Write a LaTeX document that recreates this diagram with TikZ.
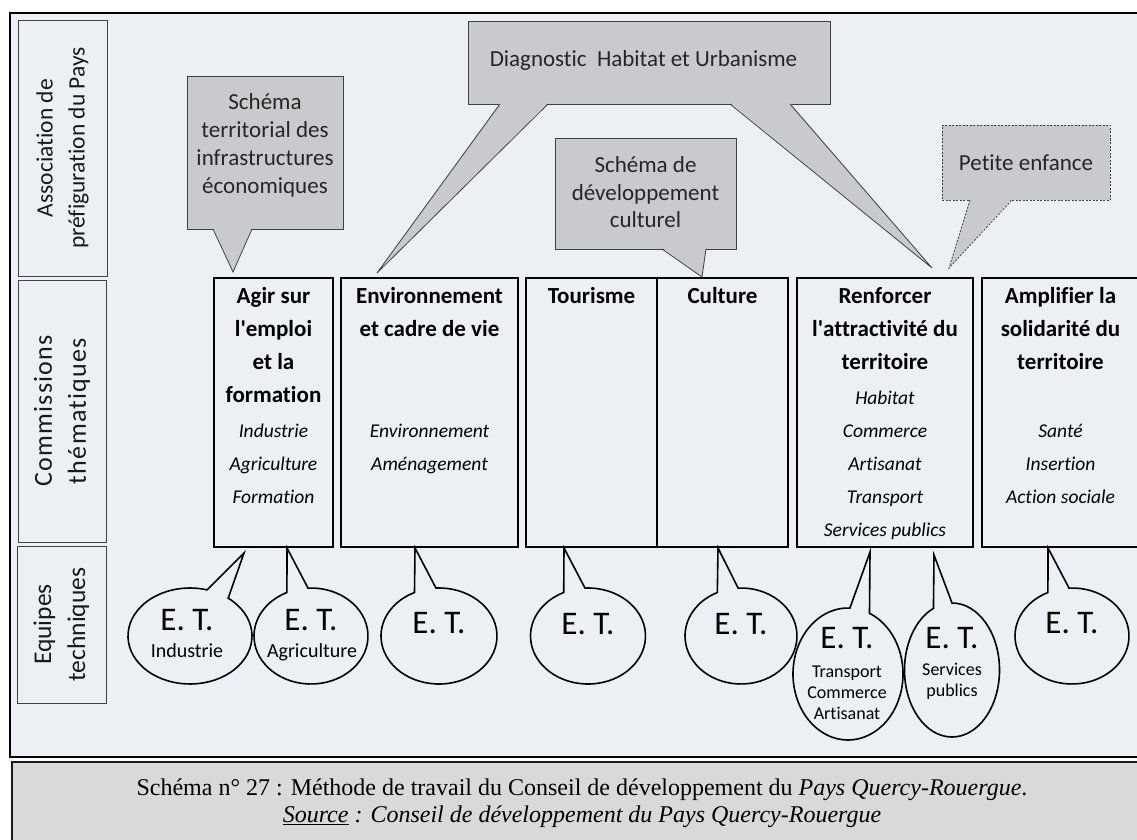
\documentclass[tikz,border=0pt]{standalone}
\usepackage{fontspec}
\setmainfont{Carlito}[Ligatures=NoCommon]
\newfontfamily\legendefont{Liberation Serif}
\usetikzlibrary{fit}
\definecolor{fond}{HTML}{ECF0F4}
\definecolor{gris}{HTML}{C8CACD}
\definecolor{grisfonce}{HTML}{404040}
\definecolor{grislegende}{HTML}{D9D9D9}
\newcommand{\dom}[1]{{\normalfont\itshape\fontsize{19.5}{33}\selectfont #1}}
\newcommand{\apos}{\textquotesingle}

\begin{document}
\begin{tikzpicture}[x=1pt,y=-1pt,
  cadre/.style={draw=black,line width=2.4pt,fill=fond},
  niveau/.style={draw=grisfonce,line width=0.9pt,fill=fond,inner sep=0pt},
  niveautxt/.style={rotate=90,align=center,inner sep=0pt,text=black!90,
              font=\fontsize{23.5}{32}\selectfont},
  commission/.style={draw=black,line width=1.8pt,inner sep=0pt},
  titre/.style={anchor=north,align=center,inner sep=0pt,
              font=\fontsize{23}{33}\selectfont\bfseries},
  appel/.style={draw=grisfonce,line width=0.8pt,fill=gris,inner sep=0pt},
  appeltxt/.style={anchor=north,align=center,inner sep=0pt,text=black!85,
              font=\fontsize{23}{28}\selectfont},
  pointe/.style={draw=grisfonce,line width=0.8pt},
  bulle/.style={draw=black,line width=1.6pt,fill=fond},
  et/.style={anchor=base,inner sep=0pt,font=\fontsize{33}{33}\selectfont},
  sous/.style={anchor=base,align=center,inner sep=0pt,font=\fontsize{20}{21}\selectfont},
  legende/.style={draw=black!90,line width=2pt,fill=grislegende,inner sep=0pt},
  legtxt/.style={anchor=north,align=center,inner sep=0pt,
              font=\legendefont\fontsize{24}{27}\selectfont}]
\useasboundingbox (0,0) rectangle (1137,840);

% cadre et legende
\draw[cadre] (10,13) rectangle (1150,757);
\node[legende,fit={(12,762) (1150,850)}] (leg) {};
\node[legtxt] (leg-t) at (582,776) {\strut Schéma n° 27 : Méthode de travail du Conseil de développement du \textit{Pays Quercy-Rouergue}.\\
  \textit{\underline{Source} : Conseil de développement du Pays Quercy-Rouergue}};

% niveaux
\node[niveau,fit={(18,20) (107,276)}] (asso) {};
\node[niveau,fit={(18,280) (106,542)}] (commis) {};
\node[niveau,fit={(17,546) (106,703)}] (equipes) {};
\node[niveautxt] (asso-t) at (asso) {Association de\\préfiguration du Pays};
\node[niveautxt,font=\fontsize{26}{34}\selectfont\addfontfeature{LetterSpace=5}] (commis-t) at (commis) {Commissions\\thématiques};
\node[niveautxt,font=\fontsize{25.5}{34}\selectfont] (equipes-t) at (equipes) {Equipes\\techniques};

% commissions thematiques
\node[commission,fit={(214,278) (333,547)}] (agir) {};
\node[commission,fit={(341,278) (518,547)}] (envi) {};
\node[commission,fit={(526,278) (657,547)}] (tour) {};
\node[commission,fit={(657,278) (788,547)}] (cult) {};
\node[commission,fit={(797,278) (973,547)}] (renf) {};
\node[commission,fit={(982,278) (1139,547)}] (ampl) {};
\node[titre] (agir-t) at ([yshift=-2.9pt]agir.north) {\strut Agir sur\\l\apos emploi\\et la\\formation\\[1.7pt]
  \dom{Industrie}\\\dom{Agriculture}\\\dom{Formation}};
\node[titre] (envi-t) at ([yshift=-2.9pt]envi.north) {\strut Environnement\\et cadre de vie\\[68pt]
  \dom{Environnement}\\\dom{Aménagement}};
\node[titre] (tour-t) at ([yshift=-2.9pt]tour.north) {\strut Tourisme};
\node[titre] (cult-t) at ([yshift=-2.9pt]cult.north) {\strut Culture};
\node[titre] (renf-t) at ([yshift=-2.9pt]renf.north) {\strut Renforcer\\l\apos attractivité du\\territoire\\[2pt]
  \dom{Habitat}\\\dom{Commerce}\\\dom{Artisanat}\\\dom{Transport}\\\dom{Services publics}};
\node[titre] (ampl-t) at ([yshift=-2.9pt]ampl.north) {\strut Amplifier la\\solidarité du\\territoire\\[35pt]
  \dom{Santé}\\\dom{Insertion}\\\dom{Action sociale}};

% appels du haut
\node[appel,fit={(187,76) (343,229)}] (terr) {};
\fill[gris] (213,227.8) -- (233,272) -- (252,227.8) -- cycle;
\draw[pointe] (213,229) -- (233,272) -- (252,229);
\node[appeltxt] (terr-t) at ([yshift=-14.4pt]terr.north) {\strut Schéma\\territorial des\\infrastructures\\économiques};

\node[appel,fit={(468,21) (830,104)}] (diag) {};
\fill[gris] (500,102.8) -- (377,273) -- (548,102.8) -- cycle;
\draw[pointe] (500,104) -- (377,273) -- (548,104);
\fill[gris] (730,102.8) -- (932,268) -- (790,102.8) -- cycle;
\draw[pointe] (730,104) -- (932,268) -- (790,104);
\node[appeltxt,anchor=base] (diag-t) at (643.5,67) {Diagnostic\ \ Habitat et Urbanisme};

\node[appel,fit={(555,138) (736,249)}] (cultsch) {};
\fill[gris] (662,247.8) -- (702,277) -- (706,247.8) -- cycle;
\draw[pointe] (662,249) -- (702,277) -- (706,249);
\node[appeltxt,font=\fontsize{23}{27.5}\selectfont] (cultsch-t) at ([yshift=-15.75pt]cultsch.north) {\strut Schéma de\\développement\\culturel};

\node[appel,dash pattern=on 2pt off 1.5pt,fit={(942,125) (1110,200)}] (petite) {};
\fill[gris] (970,198.8) -- (949,268) -- (1012,198.8) -- cycle;
\draw[pointe,dash pattern=on 2pt off 1.5pt] (970,200) -- (949,268) -- (1012,200);
\node[appeltxt,anchor=base] (petite-t) at (1026,170) {Petite enfance};

% equipes techniques
\draw[bulle] (190,636) ++(-52:62 and 48) arc[start angle=-52,end angle=286,x radius=62,y radius=48] -- (244,553) -- cycle;
\draw[bulle] (311,636) ++(-93:57 and 48) arc[start angle=-93,end angle=245,x radius=57,y radius=48] -- (287,548) -- cycle;
\draw[bulle] (439,636) ++(-93:58 and 48) arc[start angle=-93,end angle=245,x radius=58,y radius=48] -- (415,548) -- cycle;
\draw[bulle] (588,636) ++(-93:57.5 and 48) arc[start angle=-93,end angle=245,x radius=57.5,y radius=48] -- (564,548) -- cycle;
\draw[bulle] (741,636) ++(-93:56 and 48) arc[start angle=-93,end angle=245,x radius=56,y radius=48] -- (718,548) -- cycle;
\draw[bulle] (848,674) ++(-67:55 and 66) arc[start angle=-67,end angle=272,x radius=55,y radius=66] -- (870,552) -- cycle;
\draw[bulle] (952,670) ++(-90:47.5 and 67) arc[start angle=-90,end angle=247,x radius=47.5,y radius=67] -- (934,555) -- cycle;
\draw[bulle] (1072,636) ++(-93:57 and 48) arc[start angle=-93,end angle=245,x radius=57,y radius=48] -- (1048,548) -- cycle;

\node[et] (et-ind) at (187,630) {E. T.};
\node[sous] (et-ind-s) at (187,657) {Industrie};
\node[et] (et-agr) at (311,630) {E. T.};
\node[sous] (et-agr-s) at (312,657) {Agriculture};
\node[et] (et-env) at (439,633) {E. T.};
\node[et] (et-tou) at (588,634) {E. T.};
\node[et] (et-cul) at (741,634) {E. T.};
\node[et] (et-tra) at (847,648) {E. T.};
\node[sous,anchor=north,font=\fontsize{18}{21}\selectfont] (et-tra-s) at (847,662.3) {\strut Transport\\Commerce\\Artisanat};
\node[et] (et-ser) at (952,648) {E. T.};
\node[sous,anchor=north,font=\fontsize{18}{21}\selectfont] (et-ser-s) at (952,660.3) {\strut Services\\publics};
\node[et] (et-amp) at (1072,633) {E. T.};
\end{tikzpicture}
\end{document}
